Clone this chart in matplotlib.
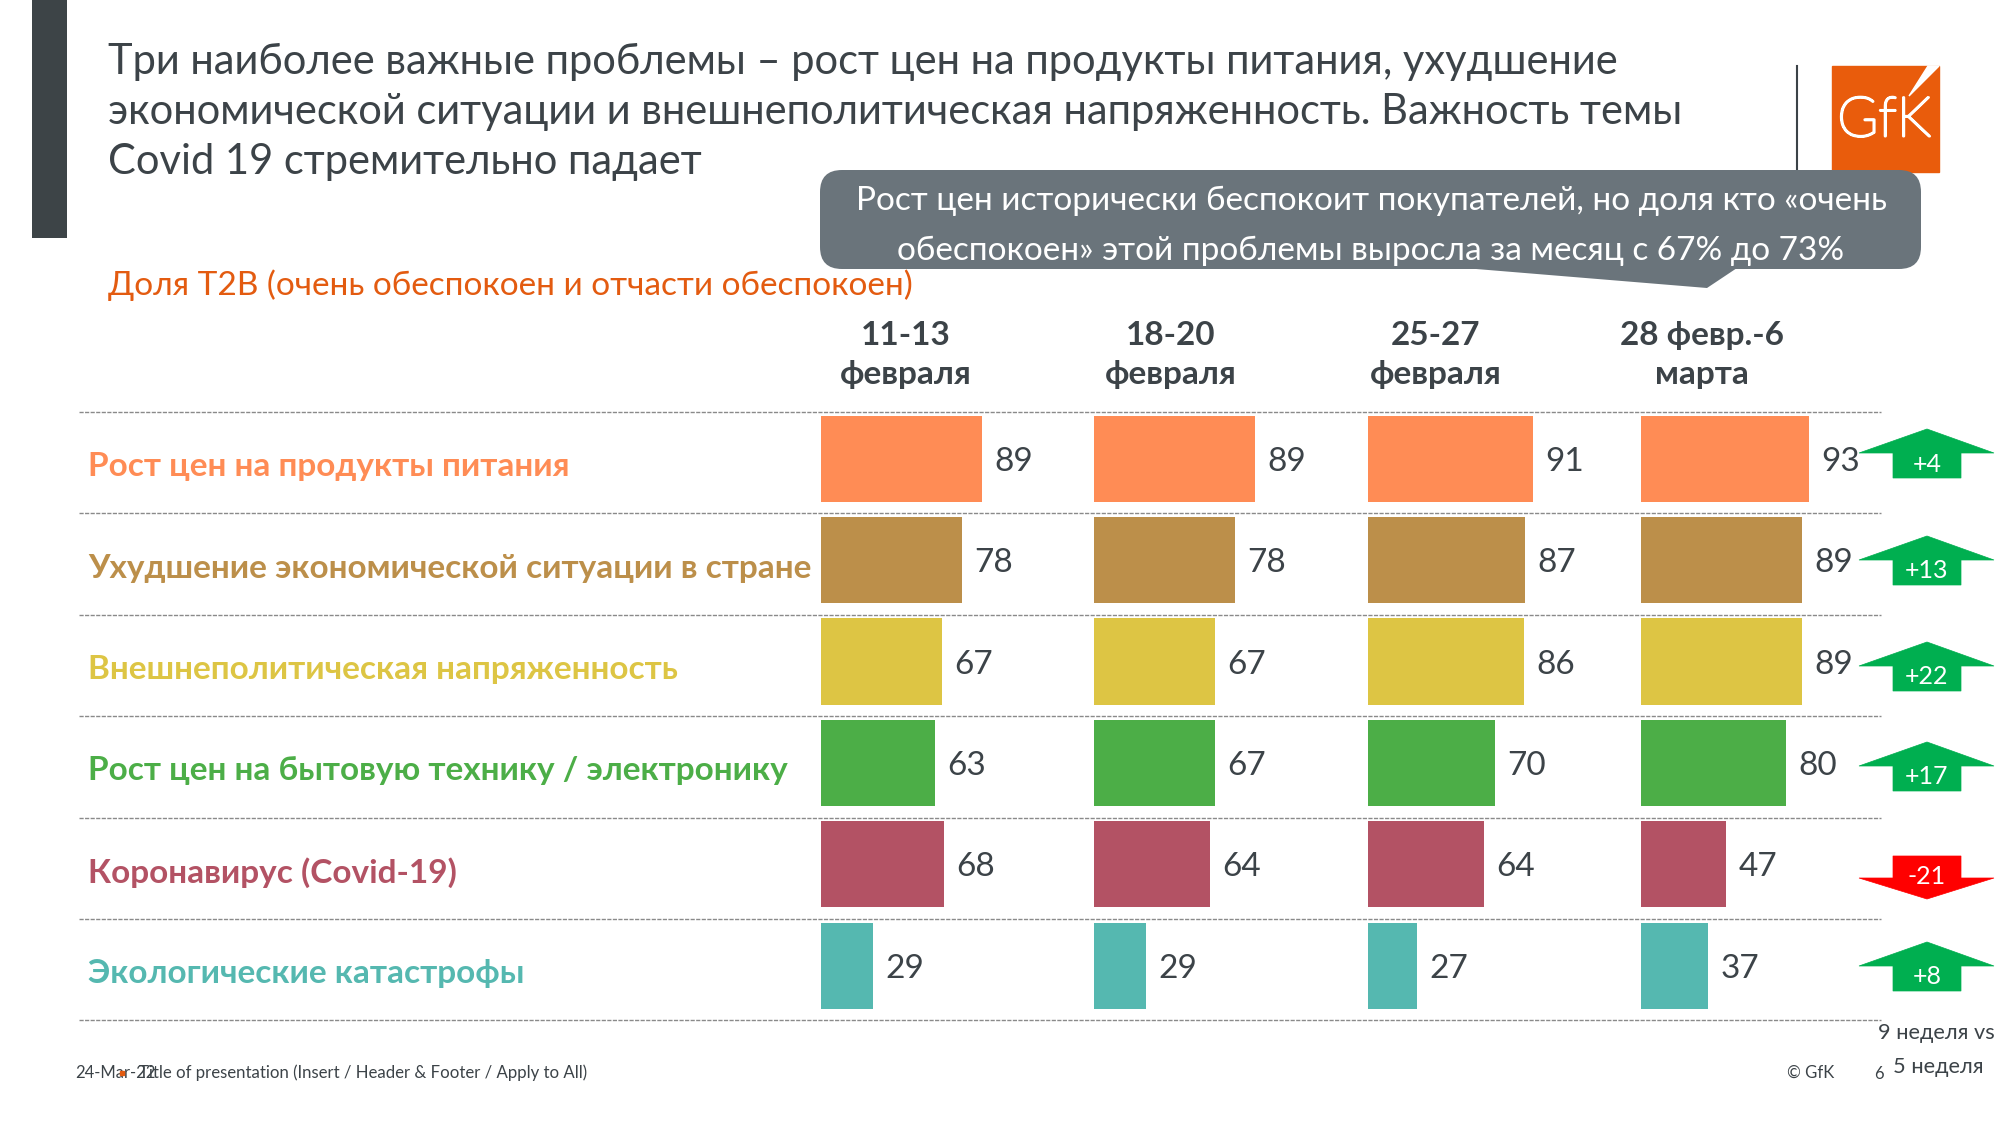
import matplotlib
matplotlib.use('Agg')
import matplotlib.pyplot as plt
import matplotlib.patheffects as pe
from matplotlib.patches import FancyBboxPatch, Polygon, Rectangle

plt.rcParams['font.family'] = ['Lato', 'Open Sans', 'DejaVu Sans']

title_lines = ['Три наиболее важные проблемы – рост цен на продукты питания, ухудшение',
               'экономической ситуации и внешнеполитическая напряженность. Важность темы',
               'Covid 19 стремительно падает']
subtitle = 'Доля T2B (очень обеспокоен и отчасти обеспокоен)'
callout_lines = ['Рост цен исторически беспокоит покупателей, но доля кто «очень',
                 'обеспокоен» этой проблемы выросла за месяц с 67% до 73%']
periods = ['11-13\nфевраля', '18-20\nфевраля', '25-27\nфевраля', '28 февр.-6\nмарта']
problems = ['Рост цен на продукты питания',
            'Ухудшение экономической ситуации в стране',
            'Внешнеполитическая напряженность',
            'Рост цен на бытовую технику / электронику',
            'Коронавирус (Covid-19)',
            'Экологические катастрофы']
week1 = [89, 78, 67, 63, 68, 29]
week2 = [89, 78, 67, 67, 64, 29]
week3 = [91, 87, 86, 70, 64, 27]
week4 = [93, 89, 89, 80, 47, 37]
changes = [4, 13, 22, 17, -21, 8]
colors = ['#FF8C55', '#BC8F4A', '#DDC544', '#4CAE47', '#B35264', '#55B8B0']

DARK = '#3C4348'
ORANGE = '#E35B10'
CALLOUT = '#6A747B'

W, H = 2000, 1125
fig = plt.figure(figsize=(20, 11.25), dpi=100)

# overlay in pixel coords for the slide furniture
bg = fig.add_axes([0, 0, 1, 1])
bg.set_xlim(0, W)
bg.set_ylim(H, 0)
bg.axis('off')

# dark side stripe
bg.add_patch(Rectangle((32, 0), 35, 237.5, color='#3D4447', lw=0))

for y, line in zip([74, 124, 174], title_lines):
    bg.text(108, y, line, fontsize=29.95, color=DARK, va='baseline')

bg.text(108, 295, subtitle, fontsize=24, color=ORANGE, va='baseline')

# logo
bg.plot([1797, 1797], [66, 170], color=DARK, lw=1.5, zorder=1)
bg.add_patch(Rectangle((1832, 66), 107, 106, color='#E95C0C', zorder=2))
bg.add_patch(Polygon([(1928, 66), (1939, 66), (1909, 96)], color='white', zorder=3))
logo = bg.text(1884, 121, 'GfK', fontsize=40, color='white', ha='center', va='center',
               fontweight='light', zorder=3)
logo.set_path_effects([pe.withStroke(linewidth=1.8, foreground='white')])

# callout
bg.add_patch(FancyBboxPatch((820, 170), 1101, 99, boxstyle='round,pad=0,rounding_size=22',
                            lw=0, fc=CALLOUT, zorder=4))
bg.add_patch(Polygon([(1464, 268), (1707, 288), (1737, 268)], color=CALLOUT, lw=0, zorder=4))
for y, line in zip([210, 260], callout_lines):
    bg.text(1371, y, line, fontsize=24, color='white', ha='center', va='baseline', zorder=5)

# column headers
col_left = [821, 1094, 1368, 1641]
col_centre = [906, 1171, 1436, 1702]
for xc, p in zip(col_centre, periods):
    a, b = p.split('\n')
    bg.text(xc, 345, a, fontsize=24, fontweight='bold', color=DARK, ha='center', va='baseline')
    bg.text(xc, 384, b, fontsize=24, fontweight='bold', color=DARK, ha='center', va='baseline')

# dashed row separators
row_top = 412
row_h = 101.4
for i in range(7):
    y = row_top + i * row_h
    bg.plot([79, 1881], [y, y], color='#8A8A8A', lw=1, ls=(0, (3, 1)), zorder=1)

for i, (name, c) in enumerate(zip(problems, colors)):
    bg.text(88, row_top + (i + 0.5) * row_h + 4, name, fontsize=24, fontweight='bold',
            color=c, va='center')

# bars, one axes per period
px_per_unit = 1.81
panel_w = 260
panel_top = 408
for left, vals in zip(col_left, [week1, week2, week3, week4]):
    ax = fig.add_axes([left / W, 1 - (panel_top + 6 * row_h) / H, panel_w / W, 6 * row_h / H])
    ax.barh(range(len(vals)), vals, height=0.85, color=colors, left=0)
    ax.set_xlim(0, panel_w / px_per_unit)
    ax.set_ylim(5.5, -0.5)
    ax.axis('off')
    ax.patch.set_alpha(0)
    for j, v in enumerate(vals):
        ax.annotate(str(v), (v, j), xytext=(8.8, -2.2), textcoords='offset points',
                    va='center', fontsize=24, color=DARK)

# change arrows
arrow_tip = [429, 536, 642, 742, 899, 942]
for y, d in zip(arrow_tip, changes):
    if d > 0:
        pts = [(1927, y), (1994, y + 24), (1961, y + 24), (1961, y + 49),
               (1893, y + 49), (1893, y + 24), (1859, y + 24)]
        col, lab = '#00AF50', f'+{d}'
        ty = y + 35
    else:
        pts = [(1927, y), (1994, y - 21), (1961, y - 21), (1961, y - 43),
               (1893, y - 43), (1893, y - 21), (1859, y - 21)]
        col, lab = '#FF0000', str(d)
        ty = y - 23
    bg.add_patch(Polygon(pts, fc=col, ec=col, lw=0.5, zorder=2))
    bg.text(1927, ty, lab, fontsize=18, color='white', ha='center', va='center', zorder=3)

# footer
bg.text(75, 1073, '24-Mar-22', fontsize=12, color=DARK, va='center')
bg.text(139, 1073, 'Title of presentation (Insert / Header & Footer / Apply to All)',
        fontsize=12.1, color=DARK, va='center')
bg.add_patch(Rectangle((120, 1071), 4, 4, color=ORANGE, zorder=3))
bg.text(1787, 1073, '© GfK', fontsize=12, color=DARK, va='center')
bg.text(1874, 1074, '6', fontsize=12, color=DARK, va='center')
bg.text(1936, 1033, '9 неделя vs', fontsize=15.7, color=DARK, ha='center', va='center')
bg.text(1938, 1067, '5 неделя', fontsize=15.7, color=DARK, ha='center', va='center')

fig.savefig('out.png', dpi=100)
